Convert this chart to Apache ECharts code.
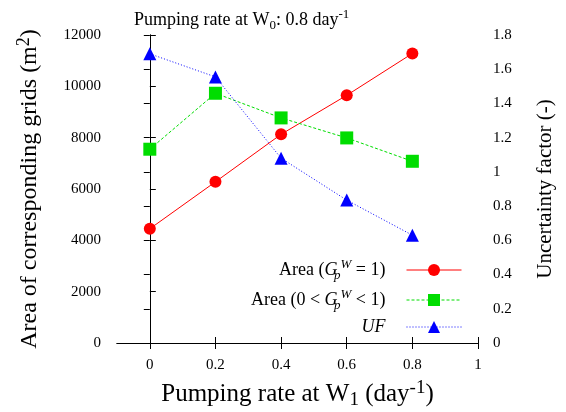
<!DOCTYPE html>
<html>
<head>
<meta charset="utf-8">
<script src="https://cdn.jsdelivr.net/npm/echarts@6/dist/echarts.min.js"></script>
<style>
html, body { margin: 0; padding: 0; background: #fff; }
#main { width: 566px; height: 412px; }
</style>
</head>
<body>
<div id="main"></div>
<script>
// data
var xValues = [0, 0.2, 0.4, 0.6, 0.8];
var areaFull = [4450, 6280, 8130, 9650, 11280];     // Area (G_p^W = 1)
var areaPartial = [7550, 9730, 8770, 7990, 7080];  // Area (0 < G_p^W < 1)
var ufValues = [1.69, 1.555, 1.08, 0.835, 0.63];   // UF
var xTicks = [0, 0.2, 0.4, 0.6, 0.8, 1];

var serif = 'Liberation Serif';

function pairs(vals) {
    return xValues.map(function (x, i) { return [x, vals[i]]; });
}

// sub/superscript styles for rich text
function richSet(size) {
    var small = Math.round(size * 0.74);
    var base = { fontFamily: serif, fontWeight: 'normal', color: '#000' };
    function st(extra) { return Object.assign({}, base, extra); }
    return {
        b: st({ fontSize: size, lineHeight: size + 6 }),
        i: st({ fontSize: size, fontStyle: 'italic', lineHeight: size + 6 }),
        sub: st({ fontSize: small, lineHeight: size + 6, verticalAlign: 'bottom' }),
        // subscript p takes almost no width so the W superscript stacks above it
        subi: st({ fontSize: small, fontStyle: 'italic', lineHeight: size + 6, verticalAlign: 'bottom', width: 1, padding: [0, 0, 0, 2] }),
        sup: st({ fontSize: small, lineHeight: small, verticalAlign: 'top' }),
        supi: st({ fontSize: small, fontStyle: 'italic', lineHeight: small, verticalAlign: 'top' })
    };
}

var legendNames = {
    full: '{b|Area (}{i|G}{subi|p}{supi|W}{b| = 1)}',
    partial: '{b|Area (0 < }{i|G}{subi|p}{supi|W}{b| < 1)}',
    uf: '{i|UF}'
};

function makeLegend(name, top) {
    return {
        data: [name],
        align: 'right',
        right: 104,
        top: top,
        itemWidth: 55,
        itemHeight: 15,
        padding: 0,
        lineStyle: { width: 1 },
        textStyle: { padding: [0, 16, 0, 0], rich: richSet(18) },
        formatter: function (n) { return legendNames[n]; }
    };
}

var tickStyle = { inside: true, length: 6, lineStyle: { color: '#000', width: 1 } };
var lineStyleAxis = { show: true, lineStyle: { color: '#000', width: 1 } };

var chart = echarts.init(document.getElementById('main'));

var option = {
    backgroundColor: '#fff',
    animation: false,
    title: {
        text: '{b|Pumping rate at W}{sub|0}{b|: 0.8 day}{sup|-1}',
        left: 134,
        top: 8,
        padding: 0,
        textStyle: { rich: richSet(18) }
    },
    grid: { left: 117, right: 88, top: 35, bottom: 69, outerBoundsMode: 'none' },
    legend: [
        makeLegend('full', 258),
        makeLegend('partial', 288),
        makeLegend('uf', 318)
    ],
    xAxis: [{
        type: 'value',
        min: -0.1,
        max: 1.0,
        name: '{b|Pumping rate at W}{sub|1}{b| (day}{sup|-1}{b|)}',
        nameLocation: 'middle',
        nameGap: 36,
        nameTextStyle: { rich: richSet(25) },
        axisLine: lineStyleAxis,
        axisTick: Object.assign({ customValues: xTicks }, tickStyle),
        splitLine: { show: false },
        axisLabel: { color: '#000', fontFamily: serif, fontSize: 15, margin: 15, customValues: xTicks }
    }, {
        type: 'value',
        position: 'top',
        min: -0.1,
        max: 1.0,
        axisLine: lineStyleAxis,
        axisTick: Object.assign({ customValues: xTicks }, tickStyle),
        splitLine: { show: false },
        axisLabel: { show: false, customValues: xTicks }
    }],
    yAxis: [{
        type: 'value',
        min: 0,
        max: 12000,
        interval: 2000,
        name: '{b|Area of corresponding grids (m}{sup|2}{b|)}',
        nameLocation: 'middle',
        nameRotate: 90,
        nameGap: 72,
        nameTextStyle: { rich: richSet(24) },
        axisLine: lineStyleAxis,
        axisTick: tickStyle,
        splitLine: { show: false },
        axisLabel: {
            color: '#000', fontFamily: serif, fontSize: 15, margin: 16,
            formatter: function (v) { return String(v); }
        }
    }, {
        type: 'value',
        position: 'right',
        min: 0,
        max: 1.8,
        interval: 0.2,
        name: 'Uncertainty factor (-)',
        nameLocation: 'middle',
        nameRotate: 90,
        nameGap: 57,
        nameTextStyle: { color: '#000', fontFamily: serif, fontSize: 21 },
        axisLine: lineStyleAxis,
        axisTick: tickStyle,
        splitLine: { show: false },
        axisLabel: { color: '#000', fontFamily: serif, fontSize: 15, margin: 15 }
    }],
    series: [{
        name: 'full',
        type: 'line',
        yAxisIndex: 0,
        data: pairs(areaFull),
        symbol: 'circle',
        symbolSize: 12,
        color: '#ff0000',
        lineStyle: { color: '#ff0000', width: 1, type: 'solid' },
        itemStyle: { color: '#ff0000' }
    }, {
        name: 'partial',
        type: 'line',
        yAxisIndex: 0,
        data: pairs(areaPartial),
        symbol: 'rect',
        symbolSize: 13,
        color: '#00dd00',
        lineStyle: { color: '#00dd00', width: 1, type: [3, 2] },
        itemStyle: { color: '#00dd00' }
    }, {
        name: 'uf',
        type: 'line',
        yAxisIndex: 1,
        data: pairs(ufValues),
        symbol: 'triangle',
        symbolSize: 13,
        color: '#0000ff',
        lineStyle: { color: '#0000ff', width: 1, type: [1, 2] },
        itemStyle: { color: '#0000ff' }
    }]
};

chart.setOption(option);
</script>
</body>
</html>
